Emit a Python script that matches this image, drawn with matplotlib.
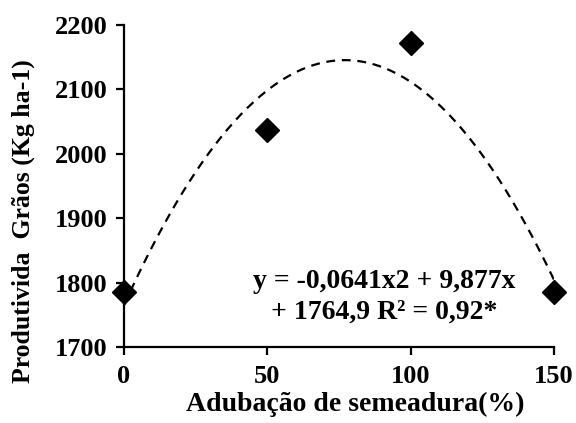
import matplotlib.pyplot as plt
import numpy as np

## data
adubacao = [0, 50, 100, 150]
produtividade = [1785, 2037, 2172, 1785]
# trendline coefficients as printed on the chart
coef = [-0.0641, 9.877, 1764.9]
xticks = [0, 50, 100, 150]
yticks = [1700, 1800, 1900, 2000, 2100, 2200]

plt.rcParams['font.family'] = ['Liberation Serif', 'DejaVu Serif']
plt.rcParams['font.weight'] = 'bold'

fig = plt.figure(figsize=(5.76, 4.23), dpi=100)
ax = fig.add_axes([0.2153, 0.1797, 0.7465, 0.7613])

xs = np.linspace(min(adubacao), max(adubacao), 200)
ax.plot(xs, np.polyval(coef, xs), color='black', linestyle=(0, (4, 3)), linewidth=1.6)
ax.plot(adubacao, produtividade, linestyle='none', marker='D', markersize=12,
        color='black', clip_on=False, zorder=3)

ax.set_xlim(0, 150)
ax.set_ylim(1700, 2200)
ax.set_xticks(xticks)
ax.set_yticks(yticks)
ax.tick_params(direction='out', length=6, width=1.6, labelsize=19)
ax.tick_params(axis='y', pad=6)
ax.tick_params(axis='x', pad=7)
for s in ['top', 'right']:
    ax.spines[s].set_visible(False)
for s in ['left', 'bottom']:
    ax.spines[s].set_linewidth(1.6)

ax.set_xlabel('Adubação de semeadura(%)', fontsize=20, fontweight='bold')
ax.xaxis.set_label_coords(0.537, -0.14)
ax.set_ylabel('Produtivida  Grãos (Kg ha-1)', fontsize=18.5, fontweight='bold')
ax.yaxis.set_label_coords(-0.207, 0.39)

ax.text(0.605, 0.155, 'y = -0,0641x2 + 9,877x\n+ 1764,9 R² = 0,92*', transform=ax.transAxes,
        fontsize=20, fontweight='bold', ha='center', va='center', linespacing=1.3)

plt.savefig('out.png', dpi=100)
